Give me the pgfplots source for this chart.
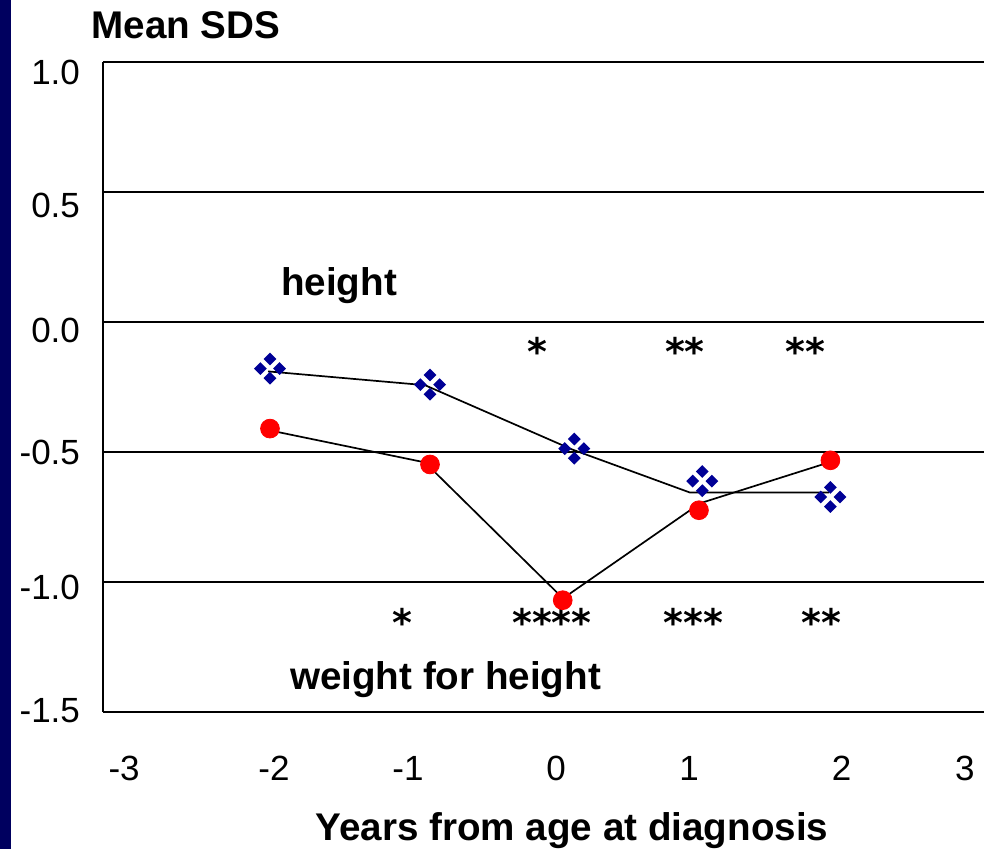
\documentclass[border=0pt]{standalone}
\usepackage{pgfplots}
\pgfplotsset{compat=1.18}
\usepackage{fontspec}
\setmainfont{Liberation Sans}
\newfontfamily\starfont{DejaVu Sans}
\definecolor{navy}{RGB}{0,0,150}
\definecolor{strip}{RGB}{0,0,95}
\makeatletter
\pgfdeclareplotmark{quaddiamond}{%
  \def\qd##1##2{%
    \pgfpathmoveto{\pgfpoint{##1+3.2pt}{##2}}%
    \pgfpathlineto{\pgfpoint{##1}{##2+3.2pt}}%
    \pgfpathlineto{\pgfpoint{##1-3.2pt}{##2}}%
    \pgfpathlineto{\pgfpoint{##1}{##2-3.2pt}}%
    \pgfpathclose}%
  \qd{4.8pt}{0pt}\qd{-4.8pt}{0pt}\qd{0pt}{4.8pt}\qd{0pt}{-4.8pt}%
  \pgfusepathqfill}
\makeatother
\begin{document}
\begin{tikzpicture}
\path[use as bounding box] (-51.5pt,-68.5pt) rectangle (440.5pt,356pt);
\fill[strip] (-51.5pt,-68.5pt) rectangle (-46pt,356pt);
\begin{axis}[
  at={(0,0)}, anchor=south west,
  scale only axis, width=440.5pt, height=325pt,
  xmin=-3.2857, xmax=3.0071, ymin=-1.5, ymax=1.0,
  axis x line*=bottom, axis y line*=left,
  axis line style={line width=1pt, -},
  major tick length=0pt,
  xtick={-3.135,-2.064,-1.107,-0.05,0.90,1.99,2.87},
  xticklabels={-3,-2,-1,0,1,2,3},
  ytick={0.960,0.449,-0.032,-0.501,-1.020,-1.493},
  yticklabels={1.0,0.5,0.0,-0.5,-1.0,-1.5},
  extra y ticks={-1.0,-0.5,0,0.5,1.0},
  extra y tick labels={},
  extra y tick style={grid=major, major grid style={black, line width=1pt}},
  ticklabel style={font=\fontsize{17.5}{20}\selectfont},
  yticklabel style={anchor=east, xshift=-8pt},
  xticklabel style={anchor=center, yshift=-28pt},
  clip=false,
]
% height SDS (blue): line vertices and markers
\addplot[black, line width=0.85pt] coordinates {(-2.107,-0.19) (-0.986,-0.243) (0.064,-0.49) (0.907,-0.656) (1.9,-0.656)};
\addplot[only marks, mark=quaddiamond, color=navy] coordinates {(-2.093,-0.179) (-0.95,-0.241) (0.081,-0.487) (0.995,-0.612) (1.91,-0.673)};
% weight for height SDS (red)
\addplot[black, line width=0.85pt] coordinates {(-2.093,-0.417) (-0.986,-0.54) (0.0,-1.063) (0.98,-0.697) (1.9,-0.54)};
\addplot[only marks, mark=*, mark size=4.7pt, color=red] coordinates {(-2.093,-0.41) (-0.95,-0.548) (-0.002,-1.07) (0.971,-0.724) (1.91,-0.532)};
% significance stars
\begin{scope}[every node/.style={font=\starfont\bfseries\fontsize{19}{20}\selectfont, inner sep=0pt}]
\node at (axis cs:-0.181,-0.1115) {*};
\node at (axis cs:0.871,-0.1115) {**};
\node at (axis cs:1.729,-0.1115) {**};
\node at (axis cs:-1.15,-1.155) {*};
\node at (axis cs:-0.079,-1.155) {****};
\node at (axis cs:0.929,-1.155) {***};
\node at (axis cs:1.843,-1.155) {**};
\end{scope}
\begin{scope}[every node/.style={font=\bfseries\fontsize{19.3}{22}\selectfont, inner sep=0pt}]
\node at (axis cs:-2.693,1.141) {Mean SDS};
\node at (axis cs:-1.6,0.141) {height};
\node at (axis cs:-0.839,-1.374) {weight for height};
\node at (axis cs:0.064,-1.955) {Years from age at diagnosis};
\end{scope}
\end{axis}
\end{tikzpicture}
\end{document}
